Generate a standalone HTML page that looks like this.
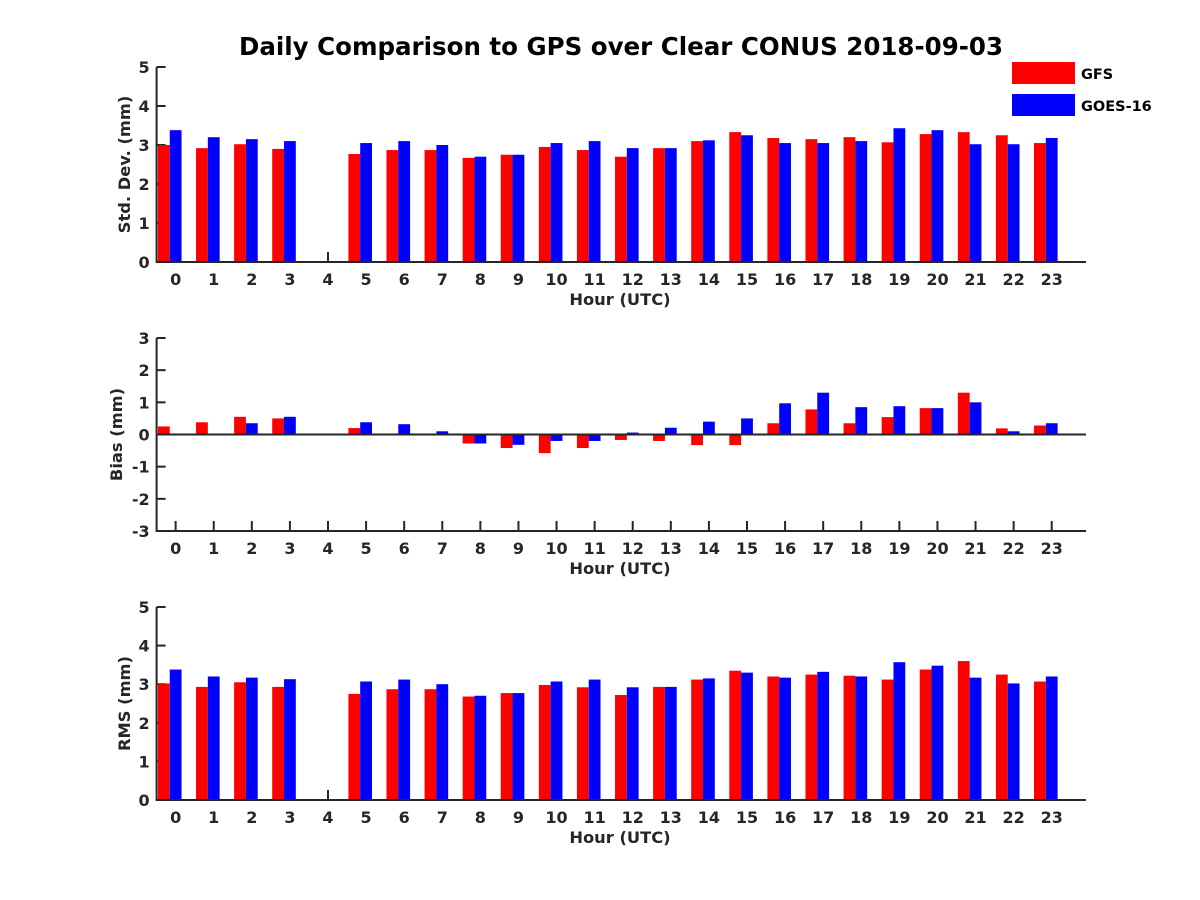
<!DOCTYPE html>
<html><head><meta charset="utf-8"><style>
html,body{margin:0;padding:0;background:#fff;}
svg{display:block;font-family:"DejaVu Sans","Liberation Sans",sans-serif;font-weight:bold;}
</style></head><body>
<svg id="chart" width="1200" height="900" viewBox="0 0 1200 900" xmlns="http://www.w3.org/2000/svg">
<rect width="1200" height="900" fill="#fff"/>
<text x="621" y="55" text-anchor="middle" font-size="24.5" fill="#000">Daily Comparison to GPS over Clear CONUS 2018-09-03</text>
<g>
<rect x="1012" y="62" width="63" height="22" fill="#ff0000"/>
<text x="1081" y="79" font-size="14.5" fill="#000">GFS</text>
<rect x="1012" y="94" width="63" height="22" fill="#0000ff"/>
<text x="1081" y="111" font-size="14.5" fill="#000">GOES-16</text>
</g>
</svg>
<script>
const hours = [0,1,2,3,4,5,6,7,8,9,10,11,12,13,14,15,16,17,18,19,20,21,22,23];
const stdGFS  = [3.00,2.92,3.02,2.90,null,2.77,2.87,2.87,2.67,2.75,2.95,2.87,2.70,2.92,3.10,3.33,3.18,3.15,3.20,3.07,3.28,3.33,3.25,3.05];
const stdGOES = [3.38,3.20,3.15,3.10,null,3.05,3.10,3.00,2.70,2.75,3.05,3.10,2.92,2.92,3.12,3.25,3.05,3.05,3.10,3.43,3.38,3.02,3.02,3.18];
const biasGFS  = [0.25,0.38,0.55,0.50,null,0.20,0.00,0.00,-0.28,-0.42,-0.58,-0.42,-0.17,-0.20,-0.33,-0.33,0.35,0.78,0.35,0.54,0.82,1.30,0.19,0.28];
const biasGOES = [0.00,0.03,0.35,0.55,null,0.38,0.32,0.10,-0.28,-0.32,-0.20,-0.20,0.06,0.21,0.40,0.50,0.97,1.30,0.85,0.88,0.82,1.00,0.10,0.35];
const rmsGFS  = [3.02,2.93,3.05,2.93,null,2.75,2.87,2.87,2.68,2.77,2.98,2.92,2.72,2.93,3.12,3.35,3.20,3.25,3.22,3.12,3.38,3.60,3.25,3.07];
const rmsGOES = [3.38,3.20,3.17,3.13,null,3.07,3.12,3.00,2.70,2.77,3.07,3.12,2.92,2.93,3.15,3.30,3.17,3.32,3.20,3.57,3.48,3.17,3.02,3.20];
const stdTicks = [0,1,2,3,4,5];
const biasTicks = [-3,-2,-1,0,1,2,3];
const rmsTicks = [0,1,2,3,4,5];

const NS = "http://www.w3.org/2000/svg";
const svg = document.getElementById('chart');
function mk(tag, attrs, parent){const e=document.createElementNS(NS,tag);for(const k in attrs)e.setAttribute(k,attrs[k]);(parent||svg).appendChild(e);return e;}
const X0=156.6, X1=1086, xmin=-0.5, xmax=23.9;
function xs(v){return X0+(v-xmin)/(xmax-xmin)*(X1-X0);}
const BW=11.8;
const panels=[
 {name:'std',top:67,bot:262,ymin:0,ymax:5,ticks:stdTicks,a:stdGFS,b:stdGOES,label:'Std. Dev. (mm)',lx:124},
 {name:'bias',top:338,bot:531,ymin:-3,ymax:3,ticks:biasTicks,a:biasGFS,b:biasGOES,label:'Bias (mm)',lx:116},
 {name:'rms',top:607,bot:800,ymin:0,ymax:5,ticks:rmsTicks,a:rmsGFS,b:rmsGOES,label:'RMS (mm)',lx:124}
];
panels.forEach(p=>{
 const g=mk('g',{});
 
 
 const ys=v=>p.bot-(v-p.ymin)/(p.ymax-p.ymin)*(p.bot-p.top);
 hours.forEach(h=>{
  const t=mk('line',{x1:xs(h),x2:xs(h),y1:p.bot,y2:p.bot-10,stroke:'#262626','stroke-width':2},g);
  
  
  const l=mk('text',{x:xs(h),y:p.bot+23,'text-anchor':'middle','font-size':16,fill:'#262626'},g);
  l.textContent=h;
  
  
 });
 p.ticks.forEach(v=>{
  const t=mk('line',{x1:X0,x2:X0+9,y1:ys(v),y2:ys(v),stroke:'#262626','stroke-width':2},g);
  
  
  const l=mk('text',{x:X0-7,y:ys(v)+6,'text-anchor':'end','font-size':16,fill:'#262626'},g);
  l.textContent=v;
  
  
 });
 const z=ys(Math.max(p.ymin,0));
 hours.forEach((h,i)=>{
  [[p.a[i],'#ff0000',-1.5,'gfs'],[p.b[i],'#0000ff',-0.5,'goes16']].forEach(([v,c,o,n])=>{
   if(v===null) return;
   const x=xs(h)+o*BW, y=ys(v);
   const r=mk('rect',{x:x,y:Math.min(y,z),width:BW,height:Math.abs(z-y),fill:c},g);
   
   
  });
 });
 if(p.ymin<0){
  const zl=mk('line',{x1:X0,x2:X1,y1:z,y2:z,stroke:'#262626','stroke-width':2},g);
  
  
 }
 const ax=mk('path',{d:`M${X0} ${p.top} V${p.bot} H${X1}`,fill:'none',stroke:'#262626','stroke-width':2},g);
 
 
 const xl=mk('text',{x:620,y:p.bot+43,'text-anchor':'middle','font-size':16.3,fill:'#262626'},g);
 xl.textContent='Hour (UTC)';
 
 
 const cy=(p.top+p.bot)/2;
 const yl=mk('text',{x:p.lx+6,y:cy,'text-anchor':'middle','font-size':16.3,fill:'#262626',transform:`rotate(-90 ${p.lx+6} ${cy})`},g);
 yl.textContent=p.label;
 
 
});
</script>
</body></html>
